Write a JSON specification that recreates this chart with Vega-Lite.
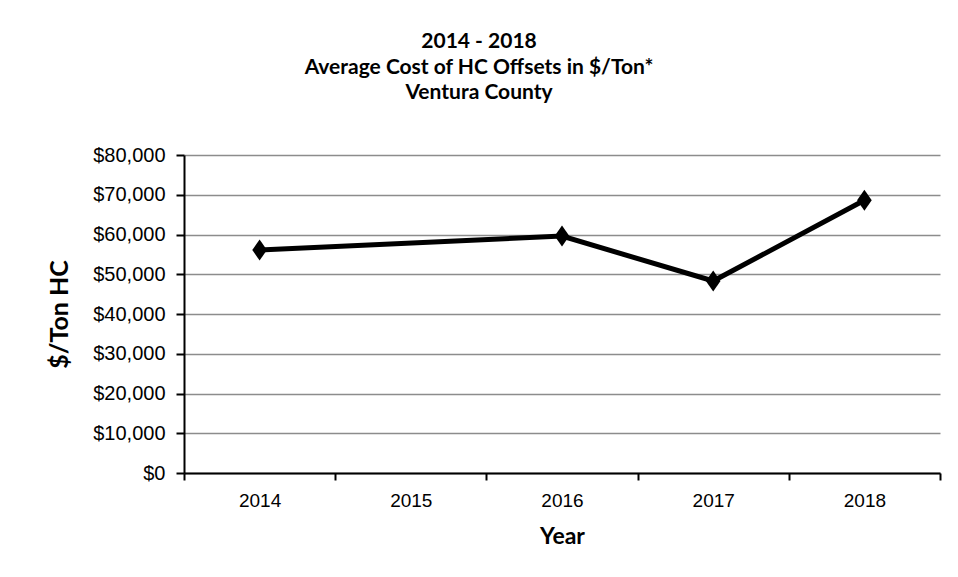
{
  "$schema": "https://vega.github.io/schema/vega-lite/v6.json",
  "width": 756,
  "height": 318,
  "autosize": {"type": "none"},
  "padding": {"left": 184, "top": 155, "right": 18, "bottom": 104},
  "background": "white",
  "title": {
    "text": ["2014 - 2018", "Average Cost of HC Offsets in $/Ton*", "Ventura County"],
    "font": "Lato",
    "fontSize": 21,
    "fontWeight": "bold",
    "color": "black",
    "lineHeight": 25.5,
    "anchor": "middle",
    "frame": "group",
    "dx": -83,
    "offset": 42
  },
  "config": {
    "view": {"stroke": null},
    "axis": {"labelFont": "Liberation Sans", "labelColor": "black", "titleFont": "Lato", "titleColor": "black", "titleFontWeight": "bold"}
  },
  "data": {
    "values": [
      {"Year": "2014", "Cost": 56100},
      {"Year": "2016", "Cost": 59600},
      {"Year": "2017", "Cost": 48300},
      {"Year": "2018", "Cost": 68600}
    ]
  },
  "encoding": {
    "x": {
      "field": "Year",
      "type": "nominal",
      "bandPosition": 0.5,
      "scale": {"type": "band", "domain": ["2014", "2015", "2016", "2017", "2018"], "paddingInner": 0, "paddingOuter": 0},
      "axis": {
        "title": "Year",
        "titleFontSize": 23,
        "titlePadding": 15,
        "labelAngle": 0,
        "labelFontSize": 19,
        "labelPadding": 11,
        "tickBand": "extent",
        "tickSize": 7,
        "tickWidth": 2,
        "tickColor": "black",
        "domainColor": "black",
        "domainWidth": 2,
        "grid": false
      }
    },
    "y": {
      "field": "Cost",
      "type": "quantitative",
      "scale": {"domain": [0, 80000], "nice": false},
      "axis": {
        "title": "$/Ton HC",
        "titleFontSize": 25,
        "titlePadding": 20,
        "format": "$,.0f",
        "values": [0, 10000, 20000, 30000, 40000, 50000, 60000, 70000, 80000],
        "labelFontSize": 20,
        "labelPadding": 11,
        "tickSize": 8,
        "tickWidth": 2,
        "tickColor": "black",
        "domainColor": "black",
        "domainWidth": 2,
        "grid": true,
        "gridColor": "#8c8c8c",
        "gridWidth": 1.5
      }
    }
  },
  "layer": [
    {"mark": {"type": "line", "color": "black", "strokeWidth": 5}},
    {"mark": {"type": "point", "shape": "M0,-1L0.7,0L0,1L-0.7,0Z", "filled": true, "color": "black", "opacity": 1, "size": 440}}
  ]
}
